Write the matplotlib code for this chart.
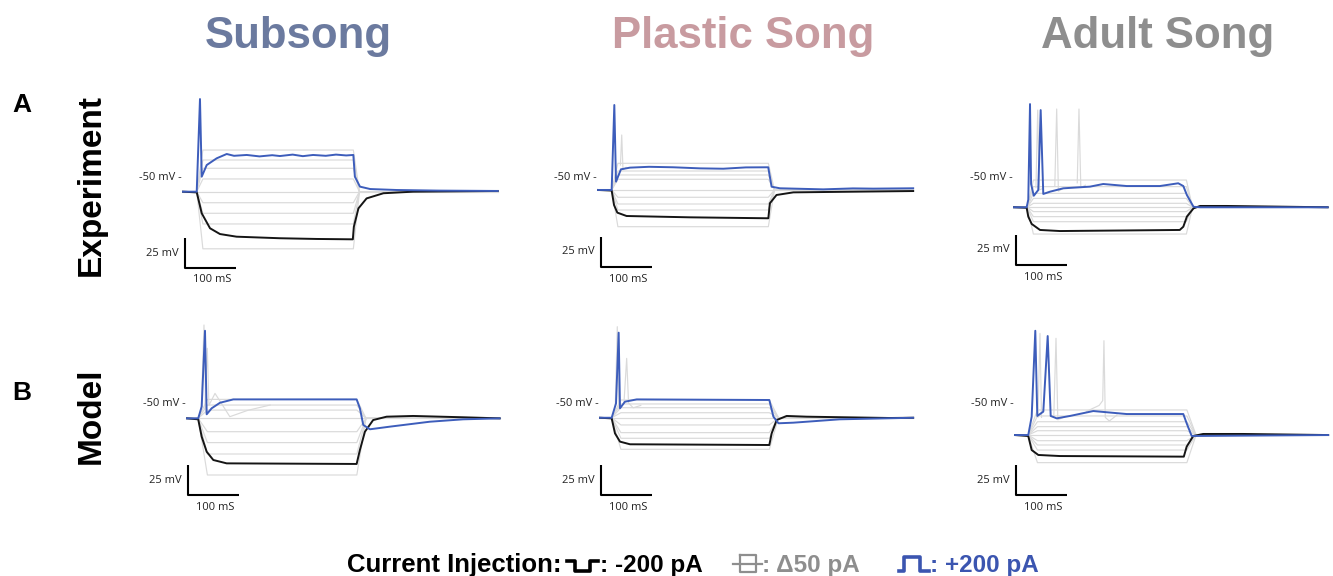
import matplotlib.pyplot as plt
from matplotlib.lines import Line2D

FIG_W, FIG_H = 1333, 576
PX_PER_MS = 0.51   # 100 ms scale bar is ~51 px
PX_PER_MV = 1.2    # 25 mV scale bar is ~30 px

STAGES = ["Subsong", "Plastic Song", "Adult Song"]
STAGE_COLORS = ["#6b7a9f", "#c89ba0", "#8e8e8e"]
ROWS = ["Experiment", "Model"]
ROW_LETTERS = ["A", "B"]

BLUE = "#3d5dbb"
GRAY = "#dadada"
BLACK = "#151515"

# panels in row-major order: exp subsong, exp plastic, exp adult, model ...
REST_MV = [-61.4, -60.8, -74.4, -62.8, -62.3, -76.7]
ONSET_MS = [27, 27, 26, 22, 23, 26]
OFFSET_MS = [334, 334, 338, 333, 332, 337]
END_MS = [617, 618, 615, 613, 614, 614]

GRAY_LEVELS = [
    [-26.7, -35.0, -41.9, -50.8, -61.4, -70.6, -79.4, -88.3, -109.0],
    [-38.6, -45.0, -48.3, -51.9, -60.8, -66.9, -72.5, -77.5, -91.4],
    [-51.7, -57.2, -62.8, -67.0, -71.1, -74.4, -78.0, -82.2, -86.4, -96.7],
    [-47.0, -51.7, -55.9, -62.8, -73.9, -83.0, -92.5, -110.0],
    [-47.5, -50.8, -53.9, -58.1, -62.3, -68.3, -74.7, -79.4, -88.6],
    [-55.8, -60.8, -65.6, -69.7, -73.1, -76.7, -81.4, -85.0, -89.2, -99.7],
]

GRAY_SPIKES = [
    [],
    [[(44, -40), (46.5, -15), (49, -44), (55, -42)]],
    [[(43, -58), (46.5, 6.6), (49.5, -60), (55, -59)],
     [(80, -57), (83.7, 7.5), (87, -61), (95, -59)],
     [(124, -54), (127.4, 7.5), (131, -58), (140, -56)]],
    [[(28, -55), (33.3, 15), (37, -58)],
     [(35, -55), (39.8, -4.4), (43, -52), (54.9, -42), (70, -52), (84, -61.4),
      (120, -56), (163, -51.7)]],
    [[(30, -52), (33.9, 13.6), (37, -55)],
     [(47, -50), (52.3, -12.8), (56, -50), (65, -54), (80, -52)]],
    [[(45, -62), (49, 8), (52, -62)],
     [(76, -62), (80.4, 3.9), (84, -64), (95, -62)],
     [(140, -57), (165, -52), (172, -48), (174.4, 1.9), (177, -62), (185, -65),
      (200, -60)]],
]

BLACK_TRACES = [
    [(0, -61.4), (27, -62), (36.7, -79.4), (53, -91.9), (72.5, -96.7), (105, -98.9),
     (190, -100.2), (262, -100.8), (333, -101.1), (335, -90.6), (344, -75.3),
     (360, -67), (393, -62.7), (451, -61.4), (617, -60.8)],
    [(0, -60.8), (26.8, -61.3), (31.4, -73.3), (37.9, -79.7), (56, -82.5),
     (180, -83.6), (334, -84.4), (337, -71.9), (350, -65), (383, -62.8),
     (618, -61.7)],
    [(0, -74.4), (24.8, -74.8), (28, -82.2), (34.7, -88.3), (51, -93.3), (90, -94.2),
     (325, -93.3), (332, -90.6), (339, -82.2), (352, -75.3), (365, -73.3),
     (417, -73.3), (615, -74.4)],
    [(0, -62.8), (22, -63.6), (28.8, -78.1), (38.6, -90.6), (51.6, -97.5),
     (77.8, -100.3), (332.6, -100.8), (339, -89.2), (348.9, -73.9), (365, -64.2),
     (391.4, -61.4), (443.6, -60.8), (541.5, -61.9), (613, -62.8)],
    [(0, -62.3), (22.9, -62.8), (29.4, -75.3), (39.2, -82.2), (58.8, -84.4),
     (332, -85), (336.6, -75.3), (346.4, -64.2), (366, -60.8), (405, -61.4),
     (568, -62.5), (614, -62.3)],
    [(0, -76.7), (26, -77.5), (32.7, -89.2), (45.7, -93.3), (88, -94.2),
     (331, -94.7), (336.6, -86.4), (349.5, -77.5), (369, -75.8), (447, -75.8),
     (614, -76.7)],
]

BLUE_TRACES = [
    [(0, -61.4), (26.9, -61.4), (33.3, 15.8), (36.7, -48.9), (46.5, -39.2),
     (66, -33.6), (85.7, -30), (100, -31.5), (125, -30.8), (150, -32), (175, -31),
     (190, -31.7), (215, -30.5), (235, -31.8), (255, -30.8), (280, -31.5),
     (300, -30.5), (320, -31.2), (334, -30.8), (337, -48.9), (347, -57.2),
     (367, -59.2), (419, -60), (500, -60.5), (617, -60.8)],
    [(0, -60.8), (26.8, -60.8), (32, 10), (35.3, -53.9), (45, -43.6),
     (62.7, -42.2), (100, -41.5), (147.6, -41.9), (200, -42.8), (245.6, -43.1),
     (290, -42), (333.8, -41.9), (340.4, -58.1), (356.7, -59.4), (441.6, -60.3),
     (500, -59.5), (539.6, -59.7), (618, -59.4)],
    [(0, -74.4), (24.8, -74.4), (28, -68), (31.4, 11.6), (33.5, -55),
     (38.8, -64.8), (47.6, -60), (52.3, 6.6), (57.4, -63.3), (70.6, -61.4),
     (96.6, -58.6), (149, -57.2), (175, -55), (221, -56.7), (286, -56.7),
     (322, -54.4), (332, -56.7), (339, -64.2), (352, -74), (365, -74.4),
     (615, -74.4)],
    [(0, -62.8), (22, -62.8), (28.8, -53), (35.3, 10.2), (38.6, -59.4),
     (48.4, -54.4), (64.7, -49.8), (90.8, -47), (149.5, -47), (332.6, -47),
     (339, -54.4), (345.6, -68.3), (358.7, -71.9), (398, -69.7), (476, -65.6),
     (541.5, -63.6), (613, -62.8)],
    [(0, -62.3), (22.9, -62.3), (31.4, -50.3), (36.6, 8.6), (39.2, -54.4),
     (49, -48.9), (72, -47), (332, -47.5), (340, -61.4), (350, -66.9),
     (379, -66.4), (470, -63.6), (614, -62.3)],
    [(0, -76.7), (26, -76.7), (32.7, -61.4), (39.8, 10.2), (43.7, -60.8),
     (55.5, -57.2), (64.1, 5.8), (70, -60.8), (81.8, -62.8), (107.8, -60.8),
     (153.5, -56.7), (219, -59.2), (330, -59.2), (336.6, -66.9), (346.4, -77.5),
     (614, -76.7)],
]

# layout: pixel position of t=0 and of -50 mV for each panel
ANCHORS = [(183, 178), (598, 177), (1014, 178), (187, 403), (600, 403), (1015, 403)]
SCALEBAR_CORNER = [(4, -125), (6, -125), (4, -122.5), (2, -126.7), (2, -126.7), (2, -126.7)]
GRAY_RISE_MS = [12, 12, 12, 18, 18, 18]


def gray_trace(i, level):
    rest = REST_MV[i]
    rise = GRAY_RISE_MS[i]
    ts = [0, ONSET_MS[i], ONSET_MS[i] + rise, OFFSET_MS[i], OFFSET_MS[i] + rise, END_MS[i]]
    vs = [rest, rest, level, level, rest, rest]
    return ts, vs


def panel_axes(fig, i):
    ax_px, ay_px = ANCHORS[i]
    left, right, up, down = 60, 318, 90, 112
    ax = fig.add_axes([
        (ax_px - left) / FIG_W,
        1 - (ay_px + down) / FIG_H,
        (left + right) / FIG_W,
        (up + down) / FIG_H,
    ])
    ax.set_xlim(-left / PX_PER_MS, right / PX_PER_MS)
    ax.set_ylim(-50 - down / PX_PER_MV, -50 + up / PX_PER_MV)
    ax.axis("off")
    return ax


def draw_panel(ax, i):
    for level in GRAY_LEVELS[i]:
        t, v = gray_trace(i, level)
        ax.plot(t, v, color=GRAY, lw=0.85, zorder=1)
    for spike in GRAY_SPIKES[i]:
        t, v = zip(*spike)
        ax.plot(t, v, color=GRAY, lw=0.85, zorder=1)
    t, v = zip(*BLACK_TRACES[i])
    ax.plot(t, v, color=BLACK, lw=1.4, zorder=2)
    t, v = zip(*BLUE_TRACES[i])
    ax.plot(t, v, color=BLUE, lw=1.4, zorder=3)

    ax.text(-2, -50, "-50 mV -", ha="right", va="center", fontsize=8,
            family="Open Sans", color="#222222")

    sx, sy = SCALEBAR_CORNER[i]
    ax.plot([sx, sx, sx + 100], [sy + 25, sy, sy], color="black", lw=1.5,
            solid_capstyle="butt", clip_on=False)
    ax.text(sx - 12, sy + 12.5, "25 mV", ha="right", va="center", fontsize=8,
            family="Open Sans", color="#222222")
    ax.text(sx + 53, sy - 10, "100 mS", ha="center", va="center", fontsize=8,
            family="Open Sans", color="#222222")


fig = plt.figure(figsize=(FIG_W / 100, FIG_H / 100), dpi=100)

for i in range(6):
    ax = panel_axes(fig, i)
    draw_panel(ax, i)

# overlay in pixel coordinates for the labels and the legend glyphs
ov = fig.add_axes([0, 0, 1, 1])
ov.set_xlim(0, FIG_W)
ov.set_ylim(FIG_H, 0)
ov.axis("off")

title_x = [298, 743, 1158]
for name, color, x in zip(STAGES, STAGE_COLORS, title_x):
    ov.text(x, 48, name, ha="center", va="baseline", fontsize=31.5,
            fontweight="bold", family="Liberation Sans", color=color)

for letter, y in zip(ROW_LETTERS, [112, 400]):
    ov.text(12, y, letter, ha="left", va="baseline", fontsize=19,
            fontweight="bold", family="Liberation Sans", color="black")

for name, y in zip(ROWS, [185, 416]):
    ov.text(91, y, name, ha="center", va="center", rotation=90, fontsize=24,
            fontweight="bold", family="Liberation Sans", color="black")

# legend line
leg_font = dict(fontsize=17.5, fontweight="bold", family=["Liberation Sans", "DejaVu Sans"],
                va="baseline", ha="left")
ov.text(347, 572, "Current Injection:", color="black", fontsize=18.5, fontweight="bold",
        family="Liberation Sans", va="baseline", ha="left")
ov.add_line(Line2D([567, 575, 575, 590, 590, 598], [561, 561, 571, 571, 561, 561],
                   color="black", lw=2.6))
ov.text(600, 572, ": -200 pA", color="black", **leg_font)
ov.add_line(Line2D([733, 762], [563.5, 563.5], color="#8e8e8e", lw=1.6))
ov.add_line(Line2D([740, 740, 756, 756, 740], [555, 572, 572, 555, 555], color="#8e8e8e", lw=1.6))
ov.text(762, 572, ": \u039450 pA", color="#8e8e8e", **leg_font)
ov.add_line(Line2D([899, 904, 904, 920, 920, 929], [571, 571, 557, 557, 571, 571],
                   color="#3b55b0", lw=2.6))
ov.text(930, 572, ": +200 pA", color="#3b55b0", **leg_font)

fig.savefig("out.png", dpi=100, facecolor="white")
